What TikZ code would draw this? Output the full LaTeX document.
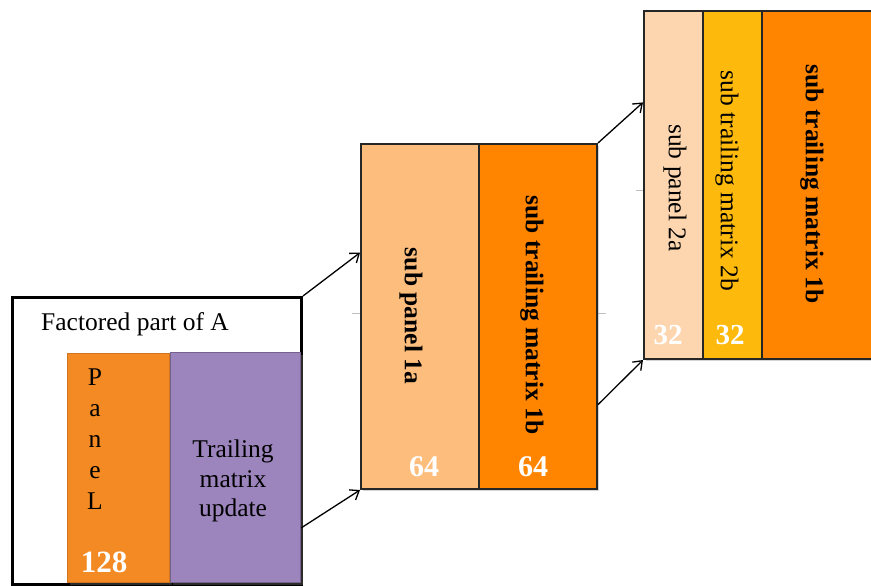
\documentclass[tikz,border=0pt]{standalone}
\usepackage{fontspec}
\setmainfont{Liberation Serif}
\usetikzlibrary{arrows.meta,shadows,calc}
\definecolor{panelor}{HTML}{F38A24}
\definecolor{purp}{HTML}{9C84BD}
\definecolor{lightor}{HTML}{FDBE7D}
\definecolor{deepor}{HTML}{FF8500}
\definecolor{peach}{HTML}{FDD6AF}
\definecolor{gold}{HTML}{FDB90C}
\tikzset{
  box/.style={rectangle, draw=black!85, line width=2pt, anchor=north west, inner sep=0pt,
    drop shadow={opacity=0.35, shadow xshift=2pt, shadow yshift=-2pt}},
  softbox/.style={rectangle, line width=1pt, anchor=north west, inner sep=0pt,
    drop shadow={opacity=0.35, shadow xshift=2pt, shadow yshift=-2pt}},
  lbl/.style={font=\fontsize{25.5}{30}\selectfont, inner sep=0pt},
  rlbl/.style={lbl, rotate=-90},
  num/.style={font=\fontsize{30}{34}\selectfont\bfseries, text=white, inner sep=0pt},
  arr/.style={line width=1.3pt, -{Straight Barb[length=8pt,width=12pt,line width=1.3pt]}},
  faint/.style={draw=black!25, line width=0.6pt}
}
\begin{document}
\begin{tikzpicture}[x=1pt,y=-1pt]
\useasboundingbox (0,0) rectangle (871,586);
\clip (0,0) rectangle (871,586);
% faint guide lines
\draw[faint] (352,313) -- (606,313);
\draw[faint] (636,190) -- (871,190);
% first group
\node[draw=black, line width=3pt, minimum width=289pt, minimum height=287pt, anchor=north west, inner sep=0pt] (outer) at (11,296) {};
\node[lbl, anchor=base] (fact) at (135,330) {Factored part of A};
\node[softbox, fill=panelor, draw=panelor!85!black, minimum width=102pt, minimum height=229pt] (panel) at (67,353) {};
\node[softbox, fill=purp, draw=purp!75!black, minimum width=130pt, minimum height=230pt] (trail) at (170,352) {};
\foreach \l/\i in {P/1,a/2,n/3,e/4,L/5}{
  \node[lbl, anchor=base] (pl\i) at (95,{385+31*(\i-1)}) {\l};
}
\node[lbl, align=center, font=\fontsize{25.5}{29.5}\selectfont] (tmu) at (233,481) {Trailing\\matrix\\update};
\node[num, font=\fontsize{31}{34}\selectfont\bfseries] (n128) at (104,562) {128};
% second group
\node[box, fill=lightor, minimum width=118pt, minimum height=345pt] (sp1a) at (360,143) {};
\node[box, fill=deepor, minimum width=118pt, minimum height=345pt] (st1b) at (478,143) {};
\node[rlbl, font=\fontsize{25.5}{30}\selectfont\bfseries] (t1a) at (411,316) {sub panel 1a};
\node[rlbl, font=\fontsize{25.5}{30}\selectfont\bfseries] (t1b) at (532,315) {sub trailing matrix 1b};
\node[num] (n64a) at (424,467) {64};
\node[num] (n64b) at (533,467) {64};
% third group
\node[box, fill=peach, minimum width=59pt, minimum height=348pt] (sp2a) at (643,10) {};
\node[box, fill=gold, minimum width=59pt, minimum height=348pt] (st2b) at (702,10) {};
\node[box, fill=deepor, minimum width=120pt, minimum height=348pt] (st1c) at (761,10) {};
\node[rlbl] (t2a) at (675,188) {sub panel 2a};
\node[rlbl] (t2b) at (727,181) {sub trailing matrix 2b};
\node[rlbl, font=\fontsize{25.5}{30}\selectfont\bfseries] (t1c) at (812,184) {sub trailing matrix 1b};
\node[num, font=\fontsize{29}{34}\selectfont\bfseries] (n32a) at (668,335) {32};
\node[num, font=\fontsize{29}{34}\selectfont\bfseries] (n32b) at (730,335) {32};
% arrows
\draw[arr] (outer.north east) -- ($(sp1a.north west)!0.316!(sp1a.south west)$);
\draw[arr] ($(trail.north east)!0.762!(trail.south east)$) -- (sp1a.south west);
\draw[arr] (st1b.north east) -- ($(sp2a.north west)!0.264!(sp2a.south west)$);
\draw[arr] ($(st1b.north east)!0.754!(st1b.south east)$) -- (sp2a.south west);
\end{tikzpicture}
\end{document}
